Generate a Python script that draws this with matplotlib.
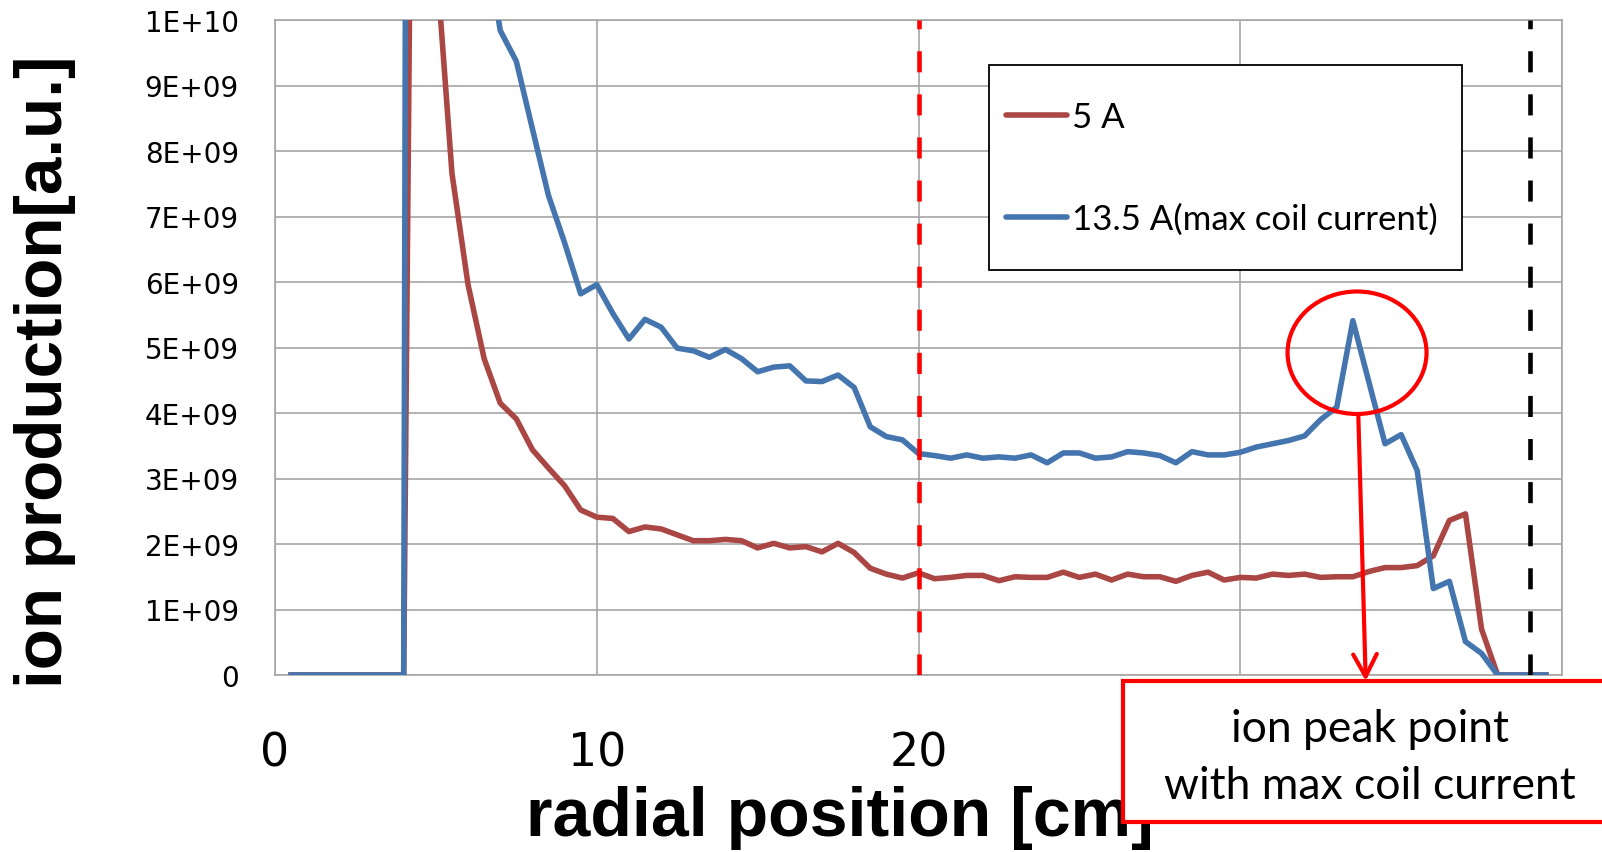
import matplotlib
matplotlib.use("Agg")
import matplotlib.pyplot as plt
from matplotlib.patches import Ellipse, Rectangle

# radial position [cm]
radius = [0.5, 1.0, 1.5, 2.0, 2.5, 3.0, 3.5, 4.0, 4.5, 5.0,
          5.5, 6.0, 6.5, 7.0, 7.5, 8.0, 8.5, 9.0, 9.5, 10.0,
          10.5, 11.0, 11.5, 12.0, 12.5, 13.0, 13.5, 14.0, 14.5, 15.0,
          15.5, 16.0, 16.5, 17.0, 17.5, 18.0, 18.5, 19.0, 19.5, 20.0,
          20.5, 21.0, 21.5, 22.0, 22.5, 23.0, 23.5, 24.0, 24.5, 25.0,
          25.5, 26.0, 26.5, 27.0, 27.5, 28.0, 28.5, 29.0, 29.5, 30.0,
          30.5, 31.0, 31.5, 32.0, 32.5, 33.0, 33.5, 34.0, 34.5, 35.0,
          35.5, 36.0, 36.5, 37.0, 37.5, 38.0, 38.5, 39.0, 39.5]

# ion production, units of 1E+09
ion_5A = [0, 0, 0, 0, 0, 0, 0, 0, 28.0, 11.0,
          7.66, 5.96, 4.83, 4.15, 3.91, 3.44, 3.16, 2.89, 2.52, 2.41,
          2.39, 2.19, 2.26, 2.23, 2.14, 2.05, 2.05, 2.07, 2.05, 1.94,
          2.01, 1.94, 1.96, 1.88, 2.01, 1.87, 1.63, 1.54, 1.48, 1.56,
          1.47, 1.49, 1.52, 1.52, 1.44, 1.50, 1.49, 1.49, 1.57, 1.49,
          1.54, 1.45, 1.54, 1.50, 1.50, 1.43, 1.52, 1.57, 1.45, 1.49,
          1.48, 1.54, 1.52, 1.54, 1.49, 1.50, 1.50, 1.58, 1.64, 1.64,
          1.67, 1.82, 2.36, 2.46, 0.70, 0, 0, 0, 0]

ion_13A = [0, 0, 0, 0, 0, 0, 0, 0, 100.0, 40.0,
           22.0, 15.0, 11.4, 9.84, 9.37, 8.34, 7.32, 6.60, 5.82, 5.96,
           5.52, 5.13, 5.43, 5.31, 4.99, 4.95, 4.85, 4.97, 4.83, 4.63,
           4.70, 4.72, 4.49, 4.48, 4.58, 4.39, 3.79, 3.64, 3.59, 3.38,
           3.35, 3.31, 3.36, 3.31, 3.33, 3.31, 3.36, 3.24, 3.39, 3.39,
           3.31, 3.33, 3.41, 3.39, 3.35, 3.24, 3.41, 3.36, 3.36, 3.40,
           3.48, 3.53, 3.58, 3.65, 3.90, 4.09, 5.41, 4.47, 3.53, 3.67,
           3.12, 1.32, 1.43, 0.51, 0.33, 0, 0, 0, 0]

series_labels = ["5 A", "13.5 A(max coil current)"]
yticks = [0, 1e9, 2e9, 3e9, 4e9, 5e9, 6e9, 7e9, 8e9, 9e9, 1e10]
ytick_labels = ["0", "1E+09", "2E+09", "3E+09", "4E+09", "5E+09",
                "6E+09", "7E+09", "8E+09", "9E+09", "1E+10"]
xticks = [0, 10, 20, 30, 40]

red = "#AA4643"
blue = "#4575AE"
grid_c = "#A6A6A6"

fig = plt.figure(figsize=(16.02, 8.53), dpi=100)
ax = fig.add_axes([275 / 1602, 1 - 676 / 853, 1287 / 1602, 655 / 853])

ax.plot(radius, [v * 1e9 for v in ion_5A], color=red, lw=4,
        solid_joinstyle="round", label=series_labels[0], zorder=3)
ax.plot(radius, [v * 1e9 for v in ion_13A], color=blue, lw=4,
        solid_joinstyle="round", label=series_labels[1], zorder=4)

ax.axvline(20, color="#FF0000", lw=3.3, dashes=(4.6, 4.8), zorder=5)
ax.axvline(39, color="black", lw=3.3, dashes=(4.6, 4.8), zorder=5)

ax.set_xlim(0, 40)
ax.set_ylim(0, 1e10)
ax.set_xticks(xticks)
ax.set_yticks(yticks)
ax.set_yticklabels(ytick_labels)
ax.tick_params(axis="y", length=0, pad=26, labelsize=20)
ax.tick_params(axis="x", length=0, pad=40, labelsize=33)
ax.grid(True, color=grid_c, lw=1.2)
ax.set_axisbelow(True)
for s in ax.spines.values():
    s.set_color(grid_c)
    s.set_linewidth(1.2)

# legend box drawn separately so the padding matches
ax.add_patch(Rectangle((0.555, 0.618), 0.367, 0.314, transform=ax.transAxes,
                       facecolor="white", edgecolor="black", lw=1.3,
                       zorder=7, clip_on=False))
leg = ax.legend(loc="upper left", bbox_to_anchor=(0.5626, 0.887),
                frameon=False, borderpad=0.2, labelspacing=2.0,
                handlelength=1.75, handletextpad=0.15, borderaxespad=0,
                prop={"family": "Lato", "size": 25})
leg.set_zorder(8)
for h in leg.get_lines():
    h.set_linewidth(4)
    h.set_solid_capstyle("round")

# circled peak and arrow down to the note
ax.add_patch(Ellipse((33.63, 4.92e9), 4.32, 1.87e9, fill=False,
                     edgecolor="#FF0000", lw=3, zorder=6, clip_on=False))
ax.annotate("", xy=(33.9, -0.09e9), xytext=(33.67, 3.96e9),
            arrowprops=dict(arrowstyle="->,head_length=1.6,head_width=0.85",
                            color="#FF0000", lw=3, shrinkA=0, shrinkB=0),
            annotation_clip=False, zorder=6)

fig.text(45 / 1602, 1 - 372 / 853, "ion production[a.u.]", rotation=90,
         ha="center", va="center", fontsize=48.5, fontweight="bold",
         family=["Liberation Sans", "DejaVu Sans"])
fig.text(526 / 1602, 1 - 836 / 853, "radial position [cm]", ha="left",
         va="baseline", fontsize=49, fontweight="bold",
         family=["Liberation Sans", "DejaVu Sans"])

fig.add_artist(Rectangle((1123 / 1602, 30 / 853), 520 / 1602, 141 / 853,
                         transform=fig.transFigure, facecolor="white",
                         edgecolor="#FF0000", lw=3, zorder=10))
fig.text(1370 / 1602, 1 - 758 / 853, "ion peak point\nwith max coil current",
         ha="center", va="center", fontsize=32, family="Lato",
         linespacing=1.5, zorder=11)

fig.savefig("out.png", dpi=100)
